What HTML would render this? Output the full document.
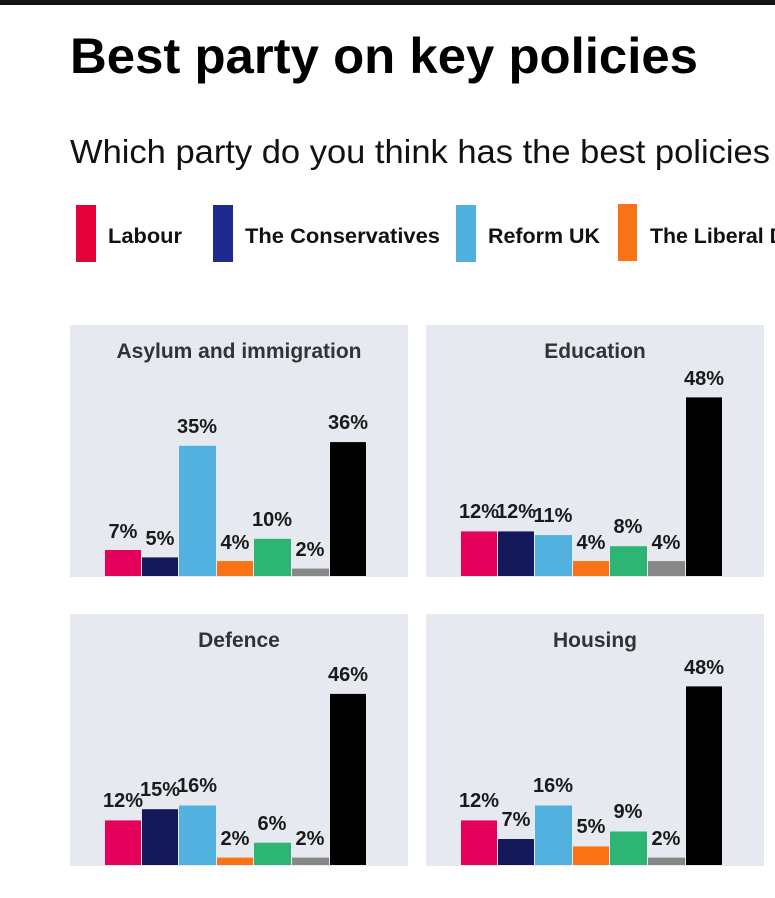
<!DOCTYPE html>
<html><head><meta charset="utf-8"><style>
html,body{margin:0;padding:0;background:#fff;width:775px;height:898px;overflow:hidden}
svg{display:block;font-family:"Liberation Sans",sans-serif}
.v{font-size:20px;font-weight:bold;fill:#1a1a1a;text-anchor:middle}
.t{font-size:21px;font-weight:bold;fill:#333;text-anchor:middle}
.l{font-size:21px;font-weight:bold;fill:#111}
</style></head><body>
<svg width="775" height="898" viewBox="0 0 775 898">
<rect x="0" y="0" width="775" height="5" fill="#141418"/>
<text x="70" y="73" font-size="50" font-weight="bold" fill="#000" textLength="628" lengthAdjust="spacingAndGlyphs">Best party on key policies</text>
<text x="70" y="163" font-size="33" fill="#111" textLength="700" lengthAdjust="spacingAndGlyphs">Which party do you think has the best policies</text>
<rect x="76" y="205" width="20" height="57" fill="#e4003b"/>
<text class="l" x="108" y="243" textLength="74" lengthAdjust="spacingAndGlyphs">Labour</text>
<rect x="213" y="205" width="20" height="57" fill="#1f2a8f"/>
<text class="l" x="245" y="243" textLength="195" lengthAdjust="spacingAndGlyphs">The Conservatives</text>
<rect x="456" y="205" width="20" height="57" fill="#4fb1dd"/>
<text class="l" x="488" y="243" textLength="112" lengthAdjust="spacingAndGlyphs">Reform UK</text>
<rect x="618" y="204" width="19" height="57" fill="#f97316"/>
<text class="l" x="650" y="243" textLength="135" lengthAdjust="spacingAndGlyphs">The Liberal D</text>

<rect x="70" y="325" width="338" height="252" fill="#e6e9f0"/>
<rect x="426" y="325" width="338" height="252" fill="#e6e9f0"/>
<rect x="70" y="614" width="338" height="252" fill="#e6e9f0"/>
<rect x="426" y="614" width="338" height="252" fill="#e6e9f0"/>
<text class="t" x="239" y="358">Asylum and immigration</text>
<text class="t" x="595" y="358">Education</text>
<text class="t" x="239" y="647">Defence</text>
<text class="t" x="595" y="647">Housing</text>

<!-- Asylum -->
<rect x="105" y="550" width="36" height="26" fill="#e4005b"/>
<rect x="142" y="557.4" width="36" height="18.6" fill="#12185a"/>
<rect x="179" y="445.8" width="37" height="130.2" fill="#52b1de"/>
<rect x="217" y="561.1" width="36" height="14.9" fill="#f97316"/>
<rect x="254" y="538.8" width="37" height="37.2" fill="#2db574"/>
<rect x="292" y="568.6" width="37" height="7.4" fill="#878787"/>
<rect x="330" y="442.1" width="36" height="133.9" fill="#000"/>
<text class="v" x="123" y="538">7%</text>
<text class="v" x="160" y="545">5%</text>
<text class="v" x="197" y="433">35%</text>
<text class="v" x="235" y="549">4%</text>
<text class="v" x="272" y="526">10%</text>
<text class="v" x="310" y="556">2%</text>
<text class="v" x="348" y="429">36%</text>

<!-- Education -->
<rect x="461" y="531.4" width="36" height="44.6" fill="#e4005b"/>
<rect x="498" y="531.4" width="36" height="44.6" fill="#12185a"/>
<rect x="535" y="535.1" width="37" height="40.9" fill="#52b1de"/>
<rect x="573" y="561.1" width="36" height="14.9" fill="#f97316"/>
<rect x="610" y="546.2" width="37" height="29.8" fill="#2db574"/>
<rect x="648" y="561.1" width="37" height="14.9" fill="#878787"/>
<rect x="686" y="397.4" width="36" height="178.6" fill="#000"/>
<text class="v" x="479" y="518">12%</text>
<text class="v" x="516" y="518">12%</text>
<text class="v" x="553" y="522">11%</text>
<text class="v" x="591" y="549">4%</text>
<text class="v" x="628" y="533">8%</text>
<text class="v" x="666" y="549">4%</text>
<text class="v" x="704" y="385">48%</text>

<!-- Defence -->
<rect x="105" y="820.4" width="36" height="44.6" fill="#e4005b"/>
<rect x="142" y="809.2" width="36" height="55.8" fill="#12185a"/>
<rect x="179" y="805.5" width="37" height="59.5" fill="#52b1de"/>
<rect x="217" y="857.6" width="36" height="7.4" fill="#f97316"/>
<rect x="254" y="842.7" width="37" height="22.3" fill="#2db574"/>
<rect x="292" y="857.6" width="37" height="7.4" fill="#878787"/>
<rect x="330" y="693.9" width="36" height="171.1" fill="#000"/>
<text class="v" x="123" y="807">12%</text>
<text class="v" x="160" y="796">15%</text>
<text class="v" x="197" y="792">16%</text>
<text class="v" x="235" y="845" fill="#444">2%</text>
<text class="v" x="272" y="830" fill="#444">6%</text>
<text class="v" x="310" y="845" fill="#444">2%</text>
<text class="v" x="348" y="681">46%</text>

<!-- Housing -->
<rect x="461" y="820.4" width="36" height="44.6" fill="#e4005b"/>
<rect x="498" y="839" width="36" height="26" fill="#12185a"/>
<rect x="535" y="805.5" width="37" height="59.5" fill="#52b1de"/>
<rect x="573" y="846.4" width="36" height="18.6" fill="#f97316"/>
<rect x="610" y="831.5" width="37" height="33.5" fill="#2db574"/>
<rect x="648" y="857.6" width="37" height="7.4" fill="#878787"/>
<rect x="686" y="686.4" width="36" height="178.6" fill="#000"/>
<text class="v" x="479" y="807">12%</text>
<text class="v" x="516" y="826">7%</text>
<text class="v" x="553" y="792">16%</text>
<text class="v" x="591" y="833">5%</text>
<text class="v" x="628" y="818">9%</text>
<text class="v" x="666" y="845">2%</text>
<text class="v" x="704" y="674">48%</text>
</svg>
</body></html>
